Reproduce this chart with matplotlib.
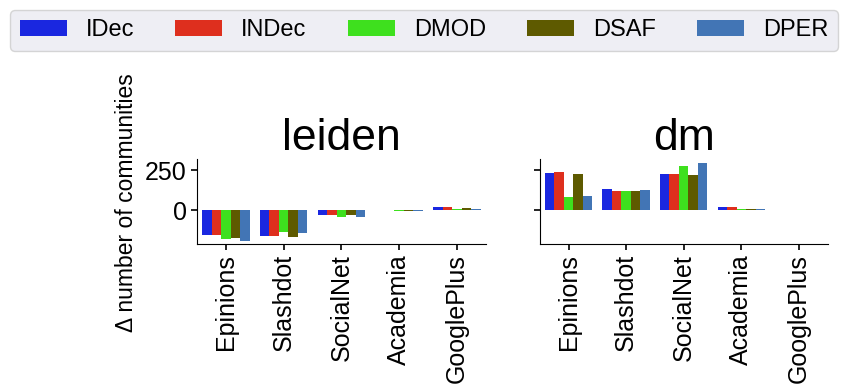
import numpy as np
import matplotlib.pyplot as plt
from matplotlib.patches import Patch

plt.rcParams['font.family'] = ['Liberation Sans', 'DejaVu Sans']

# 数据集与方法
datasets = ['Epinions', 'Slashdot', 'SocialNet', 'Academia', 'GooglePlus']
methods = ['IDec', 'INDec', 'DMOD', 'DSAF', 'DPER']
colors = ['#1a27e0', '#de2f1e', '#3ee01e', '#5e5a00', '#4275b5']

# 社区数量变化 (每个方法一组, 顺序同 datasets)
leiden_idec = [-155, -158, -29, 2, 22]
leiden_indec = [-155, -158, -29, 2, 22]
leiden_dmod = [-177, -133, -40, -5, 9]
leiden_dsaf = [-171, -165, -29, -5, 16]
leiden_dper = [-190, -140, -40, -5, 9]

dm_idec = [233, 134, 227, 17, np.nan]
dm_indec = [240, 122, 227, 23, np.nan]
dm_dmod = [85, 122, 277, 10, np.nan]
dm_dsaf = [227, 122, 221, 10, np.nan]
dm_dper = [91, 128, 295, 10, np.nan]

leiden = [leiden_idec, leiden_indec, leiden_dmod, leiden_dsaf, leiden_dper]
dm = [dm_idec, dm_indec, dm_dmod, dm_dsaf, dm_dper]

fig = plt.figure(figsize=(8.42, 3.84), dpi=100)
ax1 = fig.add_axes([0.234, 0.365, 0.343, 0.221])
ax2 = fig.add_axes([0.641, 0.365, 0.342, 0.221], sharey=ax1)

x = np.arange(len(datasets))
w = 0.165
for ax, vals, title in [(ax1, leiden, 'leiden'), (ax2, dm, 'dm')]:
    for i, (v, c) in enumerate(zip(vals, colors)):
        ax.bar(x + (i - 2) * w, v, width=w, color=c, linewidth=0)
    ax.set_xticks(x)
    ax.set_xticklabels(datasets, rotation=90, fontsize=18)
    ax.set_xlim(-0.5, 4.5)
    ax.set_title(title, fontsize=32, pad=6)
    ax.spines['top'].set_visible(False)
    ax.spines['right'].set_visible(False)
    ax.tick_params(axis='both', length=4, width=1.2, labelsize=18)

ax1.set_ylim(-210, 320)
ax1.set_yticks([0, 250])
ax1.set_ylabel('Δ number of communities', fontsize=16.5)
ax1.yaxis.set_label_coords(-0.205, 0.49)
plt.setp(ax2.get_yticklabels(), visible=False)

handles = [Patch(facecolor=c, label=m) for m, c in zip(methods, colors)]
leg = fig.legend(handles=handles, loc='lower left', ncol=5, mode='expand',
                 bbox_to_anchor=(0.012, 0.868, 0.983, 0.106), fontsize=17,
                 handlelength=2.0, handletextpad=0.8, borderaxespad=0,
                 fancybox=True, frameon=True)
leg.get_frame().set_facecolor('#eaeaf2')
leg.get_frame().set_edgecolor('#cccccc')

plt.savefig('out.png', dpi=100)
